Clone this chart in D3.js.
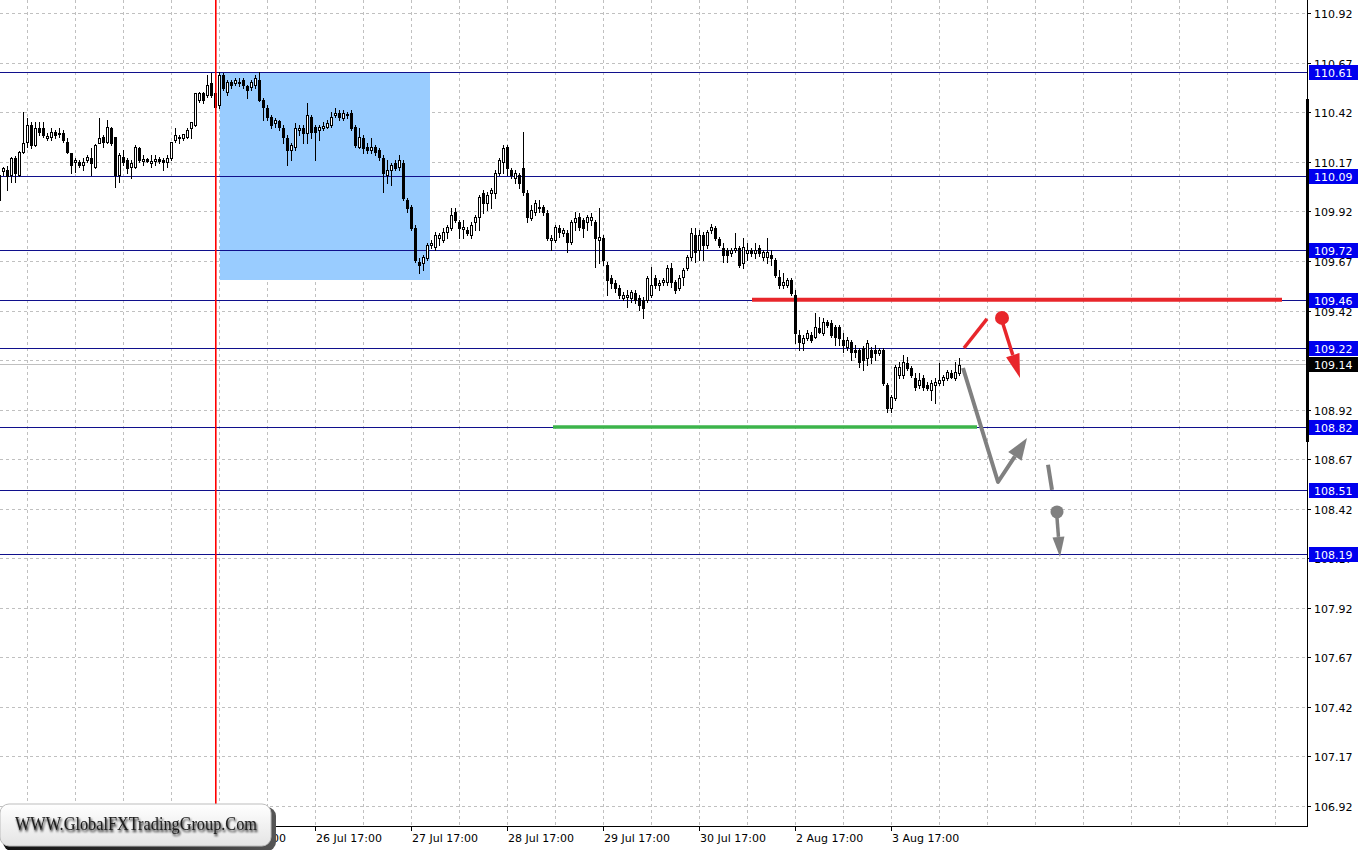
<!DOCTYPE html>
<html><head><meta charset="utf-8">
<script src="https://cdn.jsdelivr.net/npm/d3@7"></script>
<style>html,body{margin:0;padding:0;background:#fff;}svg{display:block;}</style>
</head><body>
<svg id="c" width="1364" height="850"></svg>
<script>
// ---- DATA: USDJPY H1 candles, [open, high, low, close], bar index 0..240 ----
const candles = [
[110.104,110.114,109.943,109.978],[110.125,110.145,110.104,110.140],[110.130,110.150,110.030,110.100],[110.104,110.195,110.069,110.190],
[110.190,110.200,110.069,110.114],[110.104,110.225,110.100,110.220],[110.220,110.422,110.215,110.266],[110.271,110.392,110.246,110.356],
[110.356,110.372,110.241,110.256],[110.256,110.372,110.250,110.341],[110.341,110.372,110.306,110.321],[110.341,110.370,110.296,110.306],
[110.291,110.316,110.281,110.301],[110.296,110.341,110.281,110.321],[110.321,110.331,110.291,110.306],[110.310,110.341,110.296,110.316],
[110.316,110.331,110.271,110.281],[110.271,110.291,110.215,110.220],[110.215,110.215,110.114,110.155],[110.170,110.190,110.119,110.180],
[110.170,110.180,110.145,110.155],[110.155,110.190,110.130,110.170],[110.180,110.205,110.170,110.195],[110.190,110.241,110.104,110.165],
[110.145,110.260,110.140,110.256],[110.266,110.392,110.266,110.291],[110.296,110.306,110.246,110.271],[110.271,110.382,110.266,110.346],
[110.341,110.346,110.256,110.266],[110.296,110.296,110.044,110.104],[110.104,110.215,110.069,110.205],[110.195,110.230,110.155,110.170],
[110.180,110.190,110.114,110.140],[110.145,110.180,110.089,110.165],[110.145,110.256,110.140,110.246],[110.241,110.246,110.170,110.180],
[110.175,110.205,110.155,110.185],[110.185,110.190,110.170,110.175],[110.165,110.205,110.145,110.175],[110.175,110.205,110.155,110.185],
[110.185,110.195,110.165,110.175],[110.180,110.190,110.130,110.170],[110.170,110.205,110.145,110.190],[110.190,110.271,110.180,110.271],
[110.281,110.341,110.271,110.306],[110.291,110.306,110.266,110.296],[110.291,110.311,110.281,110.311],[110.296,110.341,110.291,110.331],
[110.341,110.372,110.291,110.372],[110.356,110.520,110.350,110.518],[110.483,110.523,110.473,110.518],[110.518,110.523,110.467,110.483],
[110.508,110.609,110.498,110.558],[110.568,110.620,110.500,110.508],[110.518,110.614,110.442,110.447],[110.457,110.624,110.442,110.609],
[110.609,110.620,110.533,110.543],[110.523,110.584,110.508,110.573],[110.573,110.584,110.543,110.558],[110.568,110.594,110.558,110.584],
[110.575,110.594,110.553,110.573],[110.584,110.594,110.543,110.558],[110.553,110.558,110.493,110.533],[110.548,110.584,110.533,110.573],
[110.558,110.609,110.543,110.594],[110.584,110.624,110.478,110.483],[110.483,110.493,110.382,110.447],[110.442,110.457,110.382,110.397],
[110.397,110.407,110.341,110.356],[110.367,110.392,110.346,110.382],[110.377,110.382,110.331,110.346],[110.341,110.356,110.266,110.296],
[110.291,110.306,110.155,110.230],[110.230,110.266,110.180,110.256],[110.246,110.367,110.230,110.341],[110.330,110.356,110.306,110.340],
[110.341,110.356,110.266,110.316],[110.316,110.467,110.266,110.407],[110.397,110.407,110.291,110.321],[110.346,110.356,110.180,110.321],
[110.331,110.356,110.281,110.346],[110.341,110.372,110.331,110.351],[110.346,110.382,110.341,110.367],[110.356,110.422,110.346,110.397],
[110.407,110.442,110.397,110.417],[110.417,110.432,110.382,110.397],[110.392,110.432,110.382,110.417],[110.410,110.422,110.392,110.407],
[110.417,110.432,110.331,110.341],[110.346,110.356,110.246,110.256],[110.246,110.341,110.241,110.296],[110.291,110.306,110.215,110.241],
[110.246,110.266,110.215,110.230],[110.230,110.291,110.215,110.246],[110.246,110.256,110.205,110.220],[110.230,110.241,110.180,110.195],
[110.190,110.205,110.019,110.114],[110.104,110.180,110.064,110.130],[110.130,110.165,110.054,110.155],[110.165,110.180,110.130,110.140],
[110.145,110.205,110.130,110.180],[110.165,110.180,109.978,109.988],[109.978,109.988,109.918,109.938],[109.943,109.953,109.827,109.837],
[109.837,109.852,109.666,109.676],[109.666,109.686,109.610,109.650],[109.661,109.701,109.625,109.691],[109.686,109.761,109.676,109.751],
[109.751,109.776,109.736,109.761],[109.741,109.817,109.726,109.802],[109.786,109.812,109.751,109.802],[109.776,109.837,109.766,109.817],
[109.817,109.852,109.786,109.842],[109.837,109.938,109.827,109.902],[109.918,109.938,109.867,109.877],[109.867,109.877,109.786,109.837],
[109.832,109.877,109.786,109.842],[109.827,109.842,109.802,109.812],[109.802,109.867,109.786,109.852],[109.867,109.902,109.827,109.892],
[109.892,110.004,109.827,109.993],[110.014,110.029,109.913,109.963],[109.963,110.019,109.928,110.004],[110.014,110.039,109.938,110.029],
[110.014,110.130,109.988,110.114],[110.114,110.190,110.104,110.180],[110.170,110.256,110.114,110.241],[110.246,110.256,110.104,110.140],
[110.130,110.140,110.089,110.104],[110.089,110.130,110.064,110.114],[110.104,110.114,110.039,110.064],[110.140,110.321,110.004,110.019],
[110.014,110.029,109.867,109.892],[109.887,109.953,109.877,109.928],[109.918,109.978,109.902,109.963],[109.938,109.978,109.918,109.943],
[109.943,109.953,109.902,109.918],[109.913,109.928,109.776,109.786],[109.776,109.802,109.726,109.786],[109.776,109.852,109.766,109.842],
[109.837,109.852,109.791,109.817],[109.812,109.837,109.796,109.827],[109.812,109.827,109.716,109.766],[109.766,109.877,109.756,109.867],
[109.867,109.918,109.827,109.887],[109.892,109.913,109.827,109.842],[109.877,109.887,109.791,109.837],[109.867,109.902,109.827,109.892],
[109.877,109.913,109.852,109.892],[109.867,109.877,109.640,109.786],[109.776,109.938,109.661,109.791],[109.786,109.802,109.650,109.676],
[109.650,109.666,109.499,109.575],[109.585,109.600,109.534,109.560],[109.560,109.575,109.514,109.534],[109.534,109.550,109.484,109.499],
[109.484,109.514,109.474,109.499],[109.489,109.524,109.439,109.499],[109.484,109.524,109.464,109.514],[109.509,109.524,109.459,109.474],
[109.484,109.499,109.424,109.449],[109.474,109.489,109.383,109.434],[109.474,109.595,109.464,109.585],[109.499,109.640,109.489,109.550],
[109.585,109.600,109.534,109.550],[109.550,109.575,109.524,109.560],[109.565,109.585,109.550,109.575],[109.565,109.650,109.550,109.635],
[109.635,109.661,109.540,109.565],[109.565,109.575,109.509,109.524],[109.534,109.600,109.524,109.585],[109.590,109.635,109.550,109.625],
[109.635,109.701,109.625,109.691],[109.691,109.837,109.676,109.812],[109.802,109.837,109.666,109.716],[109.726,109.827,109.676,109.802],
[109.802,109.817,109.676,109.751],[109.751,109.827,109.736,109.817],[109.827,109.857,109.812,109.842],[109.837,109.847,109.776,109.786],
[109.781,109.791,109.741,109.751],[109.736,109.761,109.666,109.701],[109.726,109.736,109.666,109.701],[109.711,109.736,109.696,109.726],
[109.726,109.812,109.716,109.736],[109.736,109.746,109.640,109.650],[109.661,109.786,109.635,109.741],[109.711,109.761,109.676,109.726],
[109.726,109.736,109.696,109.711],[109.711,109.761,109.686,109.726],[109.736,109.751,109.696,109.711],[109.691,109.726,109.676,109.716],
[109.691,109.786,109.661,109.716],[109.701,109.726,109.650,109.686],[109.676,109.686,109.590,109.600],[109.590,109.625,109.534,109.550],
[109.550,109.610,109.534,109.565],[109.550,109.585,109.540,109.575],[109.575,109.585,109.499,109.509],[109.499,109.524,109.257,109.307],
[109.297,109.323,109.222,109.262],[109.257,109.297,109.222,109.282],[109.282,109.323,109.272,109.307],[109.297,109.312,109.262,109.272],
[109.287,109.408,109.282,109.338],[109.333,109.388,109.307,109.312],[109.307,109.383,109.297,109.363],[109.363,109.373,109.338,109.348],
[109.358,109.373,109.287,109.297],[109.338,109.348,109.247,109.287],[109.338,109.348,109.247,109.282],[109.272,109.307,109.212,109.247],
[109.237,109.287,109.222,109.272],[109.262,109.272,109.171,109.212],[109.222,109.247,109.186,109.212],[109.222,109.232,109.136,109.161],
[109.232,109.242,109.121,109.171],[109.181,109.272,109.146,109.257],[109.222,109.237,109.156,109.186],[109.222,109.247,109.171,109.207],
[109.207,109.232,109.197,109.222],[109.222,109.232,109.045,109.055],[109.045,109.055,108.909,108.929],[108.929,108.995,108.909,108.985],
[108.980,109.146,108.970,109.136],[109.096,109.161,109.080,109.136],[109.096,109.197,109.080,109.161],[109.156,109.186,109.121,109.131],
[109.131,109.141,109.086,109.096],[109.080,109.106,109.020,109.035],[109.045,109.106,109.030,109.070],[109.080,109.096,109.020,109.035],
[109.045,109.060,109.020,109.030],[109.020,109.070,108.970,109.055],[109.045,109.080,108.954,109.060],[109.055,109.156,109.045,109.070],
[109.070,109.096,109.045,109.086],[109.080,109.121,109.070,109.111],[109.106,109.121,109.080,109.086],[109.080,109.161,109.070,109.111],
[109.106,109.181,109.096,109.146]
];
const priceTicks = [110.92,110.67,110.42,110.17,109.92,109.67,109.42,109.17,108.92,108.67,108.42,108.17,107.92,107.67,107.42,107.17,106.92];
const timeLabelBars = [7,31,55,79,103,127,151,175,199,223];
const timeLabels = ["21 Jul 17:00","22 Jul 17:00","23 Jul 17:00","26 Jul 17:00","27 Jul 17:00","28 Jul 17:00","29 Jul 17:00","30 Jul 17:00","2 Aug 17:00","3 Aug 17:00"];
const levels = [110.622,110.099,109.726,109.474,109.232,108.833,108.515,108.192];
const levelLabels = ["110.61","110.09","109.72","109.46","109.22","108.82","108.51","108.19"];
const bidPrice = 109.151, bidLabel = "109.14";
const axisBar = [108.757,110.488];
const boxBars = [55.25,107.75], boxPrices = [109.575,110.622];
const separatorBar = 54.2;
const resistanceBars = [188.25,320.75], resistancePrice = 109.474;
const supportBars = [138.5,244.5], supportPrice = 108.833;
const redPath = [[241.25,109.231],[247,109.378]];
const redDot = [250.75,109.383];
const redArrow = [[251,109.352],[255.25,109.080]];
const grayPath = [[241,109.130],[249.75,108.555],[257,108.777]];
const grayDash = [[262.25,108.642],[263.25,108.515]];
const grayDot = [264.5,108.404];
const grayArrow = [[264.5,108.374],[265.25,108.177]];

// ---- LAYOUT ----
const W = 1364, H = 850, plotR = 1307, plotB = 826;
const x = d3.scaleLinear().domain([0, 327]).range([-1, 1307]);
const y = d3.scaleLinear().domain([106.92, 110.92]).range([806, 13.3]);
const svg = d3.select('#c');
const defs = svg.append('defs');
defs.append('clipPath').attr('id','clip').append('rect').attr('x',0).attr('y',0).attr('width',plotR).attr('height',plotB);
const fl = defs.append('filter').attr('id','tshadow').attr('x','-10%').attr('y','-50%').attr('width','120%').attr('height','200%');
fl.append('feGaussianBlur').attr('in','SourceAlpha').attr('stdDeviation',1.3).attr('result','b');
fl.append('feOffset').attr('in','b').attr('dx',1).attr('dy',2).attr('result','o');
const fm = fl.append('feMerge'); fm.append('feMergeNode').attr('in','o'); fm.append('feMergeNode').attr('in','SourceGraphic');
const gr = defs.append('linearGradient').attr('id','wmfill').attr('x1',0).attr('y1',0).attr('x2',0).attr('y2',1);
gr.append('stop').attr('offset','0%').attr('stop-color','#ffffff');
gr.append('stop').attr('offset','100%').attr('stop-color','#e4e4e4');
const gs = defs.append('linearGradient').attr('id','wmshadow').attr('x1',0).attr('y1',0).attr('x2',1).attr('y2',0);
gs.append('stop').attr('offset','0%').attr('stop-color','#111');
gs.append('stop').attr('offset','60%').attr('stop-color','#333');
gs.append('stop').attr('offset','100%').attr('stop-color','#555');

svg.append('rect').attr('width',W).attr('height',H).attr('fill','#fff');
const plot = svg.append('g').attr('clip-path','url(#clip)');
const px = v => Math.round(x(v));
const py = v => Math.round(y(v));

// grid
const gridBars = d3.range(7, 328, 12);
plot.selectAll('.vg').data(gridBars).join('line')
  .attr('x1',d=>px(d)+0.5).attr('x2',d=>px(d)+0.5).attr('y1',0).attr('y2',plotB)
  .attr('stroke','#c0c0c0').attr('stroke-dasharray','3,3');
plot.selectAll('.hg').data(priceTicks).join('line')
  .attr('x1',0).attr('x2',plotR).attr('y1',d=>py(d)+0.5).attr('y2',d=>py(d)+0.5)
  .attr('stroke','#c0c0c0').attr('stroke-dasharray','3,3');

// rectangle zone
plot.append('rect').attr('x',px(boxBars[0])).attr('y',py(boxPrices[1]))
  .attr('width',px(boxBars[1])-px(boxBars[0])).attr('height',py(boxPrices[0])-py(boxPrices[1]))
  .attr('fill','#99ccff');

// level lines
plot.selectAll('.lv').data(levels).join('line')
  .attr('x1',0).attr('x2',plotR).attr('y1',d=>py(d)+0.5).attr('y2',d=>py(d)+0.5)
  .attr('stroke','#10108c').attr('stroke-width',1);
plot.append('line').attr('x1',0).attr('x2',plotR).attr('y1',py(bidPrice)+0.5).attr('y2',py(bidPrice)+0.5)
  .attr('stroke','#c0c0c0');

// red resistance / green support
plot.append('line').attr('x1',x(resistanceBars[0])).attr('x2',x(resistanceBars[1]))
  .attr('y1',y(resistancePrice)).attr('y2',y(resistancePrice)).attr('stroke','#e8262b').attr('stroke-width',4);
plot.append('line').attr('x1',x(supportBars[0])).attr('x2',x(supportBars[1]))
  .attr('y1',y(supportPrice)).attr('y2',y(supportPrice)).attr('stroke','#3cb44b').attr('stroke-width',3.5);

// candles
const cg = plot.append('g').attr('shape-rendering','crispEdges');
candles.forEach((d,i)=>{
  const [o,h,l,c] = d;
  const cx = px(i);
  const top = py(Math.max(o,c)), bot = py(Math.min(o,c));
  cg.append('line').attr('x1',cx+0.5).attr('x2',cx+0.5).attr('y1',py(h)).attr('y2',py(l)+1).attr('stroke','#000');
  if (c >= o) {
    cg.append('rect').attr('x',cx-0.5).attr('y',top+0.5).attr('width',2).attr('height',Math.max(bot-top,1))
      .attr('fill','#fff').attr('stroke','#000').attr('stroke-width',1);
  } else {
    cg.append('rect').attr('x',cx-1).attr('y',top).attr('width',3).attr('height',Math.max(bot-top,1)+1).attr('fill','#000');
  }
});

// separator line (drawn over candles, as in the terminal)
plot.append('line').attr('x1',x(separatorBar)).attr('x2',x(separatorBar)).attr('y1',0).attr('y2',plotB)
  .attr('stroke','#ff0000').attr('stroke-width',1.6);

// annotations
const P = p => [x(p[0]), y(p[1])];
function arrow(g, pts, color, w, headLen, headHalf){
  const a = P(pts[pts.length-2]), b = P(pts[pts.length-1]);
  const dx=b[0]-a[0], dy=b[1]-a[1], L=Math.hypot(dx,dy), ux=dx/L, uy=dy/L;
  const base=[b[0]-ux*headLen, b[1]-uy*headLen];
  const line = pts.slice(0,-1).map(P); line.push(base);
  g.append('path').attr('d',d3.line()(line)).attr('fill','none').attr('stroke',color)
    .attr('stroke-width',w).attr('stroke-linejoin','round');
  g.append('path').attr('d',d3.line()([b,[base[0]-uy*headHalf,base[1]+ux*headHalf],[base[0]+uy*headHalf,base[1]-ux*headHalf]])+'Z')
    .attr('fill',color);
}
const ag = svg.append('g');
ag.append('path').attr('d',d3.line()(redPath.map(P))).attr('stroke','#e8262b').attr('stroke-width',3.5).attr('fill','none');
ag.append('circle').attr('cx',x(redDot[0])).attr('cy',y(redDot[1])).attr('r',7).attr('fill','#e8262b');
arrow(ag, redArrow, '#e8262b', 3.5, 24, 7);
arrow(ag, grayPath, '#808080', 4, 22, 8);
ag.append('path').attr('d',d3.line()(grayDash.map(P))).attr('stroke','#808080').attr('stroke-width',4).attr('fill','none');
ag.append('circle').attr('cx',x(grayDot[0])).attr('cy',y(grayDot[1])).attr('r',6.5).attr('fill','#808080');
arrow(ag, grayArrow, '#808080', 3.5, 20, 6);

// axes
svg.append('line').attr('x1',plotR+0.5).attr('x2',plotR+0.5).attr('y1',0).attr('y2',plotB+1).attr('stroke','#000');
svg.append('line').attr('x1',0).attr('x2',plotR+1).attr('y1',plotB+0.5).attr('y2',plotB+0.5).attr('stroke','#000');
svg.append('rect').attr('x',1306).attr('y',py(axisBar[1])).attr('width',3).attr('height',py(axisBar[0])-py(axisBar[1])).attr('fill','#000');

const font = '"DejaVu Sans", Verdana, sans-serif';
svg.selectAll('.pt').data(priceTicks).join('line')
  .attr('x1',plotR).attr('x2',plotR+4).attr('y1',d=>py(d)+0.5).attr('y2',d=>py(d)+0.5).attr('stroke','#000');
svg.selectAll('.pl').data(priceTicks).join('text')
  .attr('x',1314).attr('y',d=>py(d)+4.5).text(d=>d.toFixed(2))
  .attr('font-family',font).attr('font-size',11).attr('fill','#000');

svg.selectAll('.tt').data(timeLabelBars).join('line')
  .attr('x1',d=>px(d)+0.5).attr('x2',d=>px(d)+0.5).attr('y1',plotB).attr('y2',plotB+5).attr('stroke','#000');
svg.selectAll('.tl').data(timeLabelBars).join('text')
  .attr('x',d=>px(d)+1).attr('y',842).text((d,i)=>timeLabels[i])
  .attr('font-family',font).attr('font-size',11).attr('fill','#000');

// level labels
levels.forEach((v,i)=>{
  const yy = py(v);
  svg.append('rect').attr('x',1309).attr('y',yy-7).attr('width',49).attr('height',15).attr('fill','#0000ee');
  svg.append('text').attr('x',1314).attr('y',yy+5).text(levelLabels[i])
    .attr('font-family',font).attr('font-size',11).attr('fill','#fff');
});
{
  const yy = py(bidPrice);
  svg.append('rect').attr('x',1309).attr('y',yy-7).attr('width',49).attr('height',15).attr('fill','#000');
  svg.append('text').attr('x',1314).attr('y',yy+5).text(bidLabel)
    .attr('font-family',font).attr('font-size',11).attr('fill','#fff');
}

// watermark
const wm = svg.append('g');
wm.append('rect').attr('x',3).attr('y',807).attr('width',273).attr('height',44).attr('rx',9).attr('fill','url(#wmshadow)');
wm.append('rect').attr('x',0).attr('y',804).attr('width',271).attr('height',42).attr('rx',9).attr('fill','url(#wmfill)')
  .attr('stroke','#bdbdbd').attr('stroke-width',1);
wm.append('text').attr('x',15).attr('y',830).text('WWW.GlobalFXTradingGroup.Com')
  .attr('font-family','"Liberation Serif", "Times New Roman", serif').attr('font-size',18)
  .attr('textLength',242).attr('lengthAdjust','spacingAndGlyphs')
  .attr('fill','#1c1c1c').attr('filter','url(#tshadow)');
</script>
</body></html>
